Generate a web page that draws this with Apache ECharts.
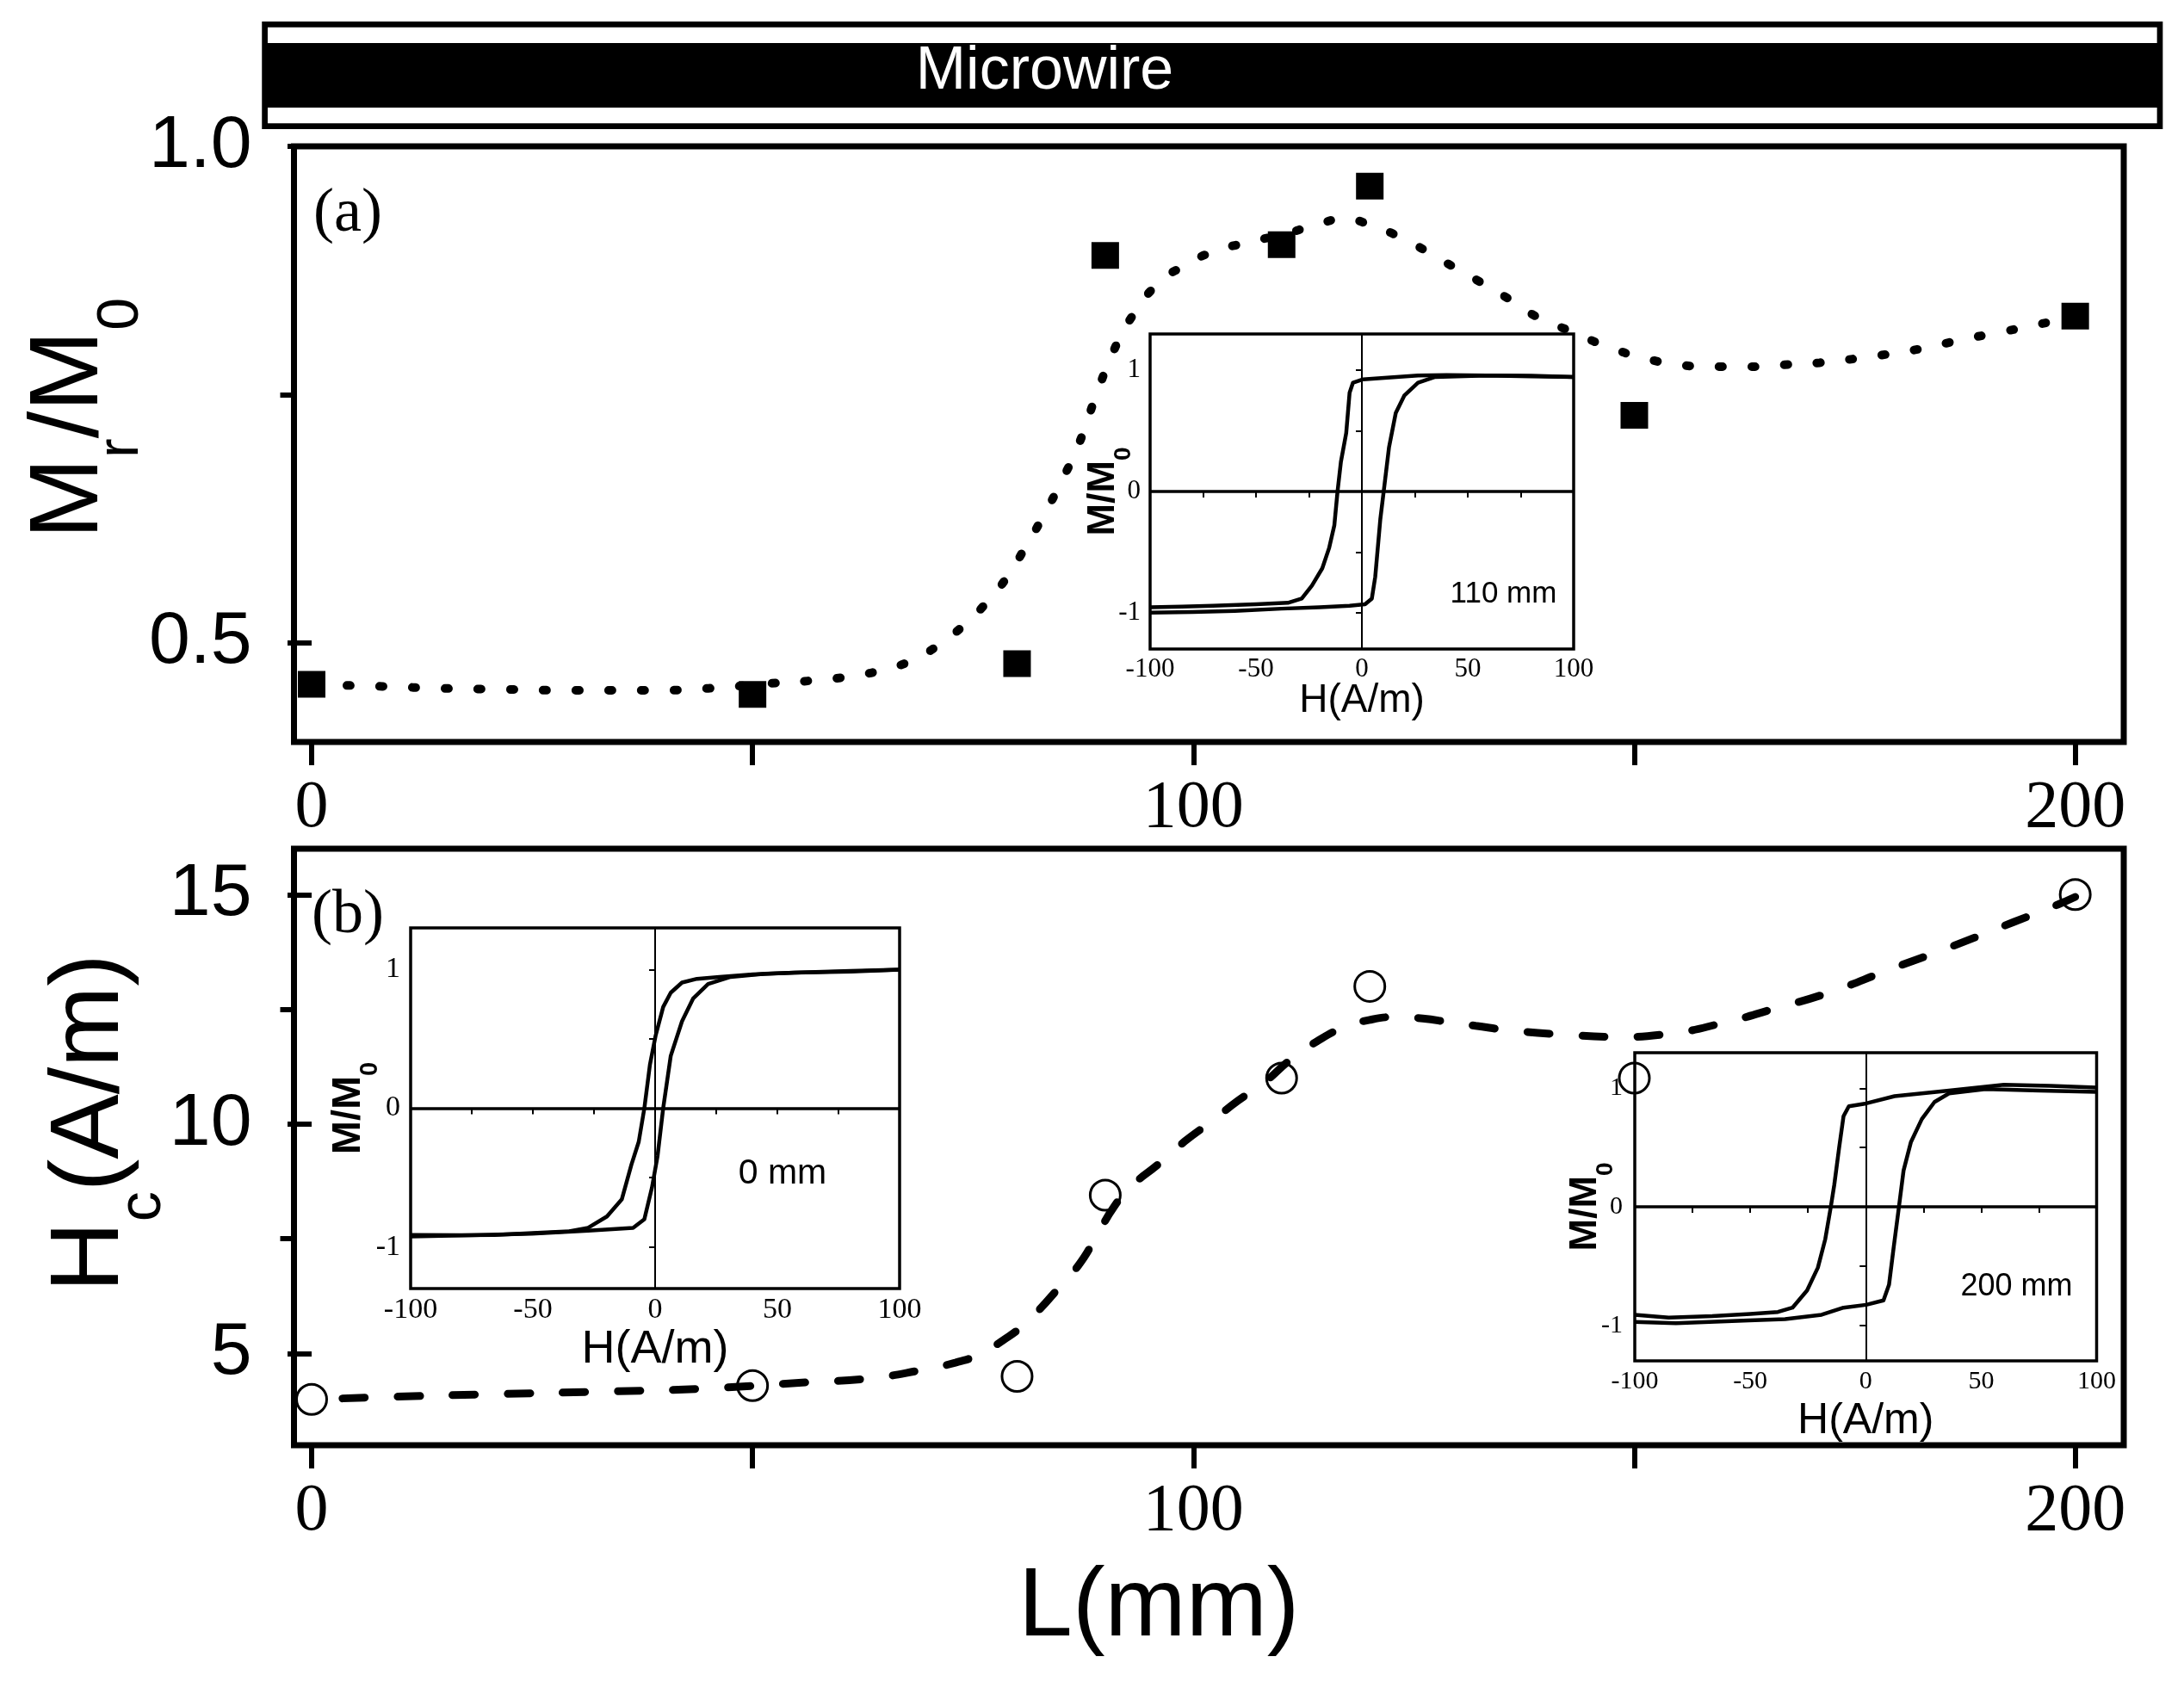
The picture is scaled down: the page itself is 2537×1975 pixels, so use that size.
<!DOCTYPE html>
<html><head><meta charset="utf-8">
<script src="https://cdn.jsdelivr.net/npm/echarts@6/dist/echarts.min.js"></script>
<style>html,body{margin:0;padding:0;background:#fff}#c{width:2537px;height:1975px}</style>
</head><body><div id="c"></div>
<script>
// ---- main data ----
const lengthMM = [0, 50, 80, 90, 110, 120, 150, 200];
const mrRatio = [0.458, 0.448, 0.479, 0.890, 0.901, 0.960, 0.729, 0.829];
const hcValues = [4.0, 4.3, 4.5, 8.45, 11.0, 13.0, 11.0, 15.0];

const fitMrX = [4, 8, 15, 22, 30, 38, 45, 52, 57, 61, 65, 68, 71, 74, 77, 79, 81, 83, 85, 87, 89, 91, 93, 96, 99, 102, 106, 110, 114, 117, 120, 124, 128, 132, 136, 139, 143, 147, 151, 155, 159, 163, 167, 171, 175, 179, 183, 187, 191, 195, 199];
const fitMrY = [0.457, 0.456, 0.454, 0.453, 0.452, 0.452, 0.454, 0.459, 0.462, 0.466, 0.473, 0.482, 0.497, 0.518, 0.545, 0.568, 0.597, 0.628, 0.662, 0.700, 0.750, 0.795, 0.828, 0.862, 0.880, 0.893, 0.903, 0.911, 0.921, 0.927, 0.921, 0.906, 0.886, 0.866, 0.845, 0.828, 0.813, 0.798, 0.787, 0.780, 0.778, 0.778, 0.780, 0.782, 0.786, 0.791, 0.797, 0.805, 0.812, 0.819, 0.827];

const fitHcX = [3.5, 8, 20, 33, 44, 57, 63, 69, 73, 76, 78.5, 80.5, 82.5, 84.5, 87, 89, 91, 93, 96, 99, 102, 105, 108, 111, 114, 117, 120, 123, 126, 129, 132, 136, 142, 148, 154, 160, 166, 172, 179, 186, 193, 198, 200];
const fitHcY = [4.02, 4.05, 4.11, 4.17, 4.23, 4.38, 4.45, 4.63, 4.8, 5.0, 5.3, 5.58, 5.95, 6.38, 6.93, 7.55, 8.2, 8.65, 9.12, 9.62, 10.05, 10.5, 10.9, 11.4, 11.8, 12.1, 12.27, 12.33, 12.3, 12.22, 12.14, 12.04, 11.95, 11.9, 11.97, 12.2, 12.52, 12.86, 13.37, 13.87, 14.4, 14.78, 14.95];

const xTicks = [0, 50, 100, 150, 200];
const xTickLabels = [0, 100, 200];
const mrTicks = [0.5, 1.0];
const mrMinorTicks = [0.75];
const hcTicks = [5, 10, 15];
const hcMinorTicks = [7.5, 12.5];

// ---- inset data (hysteresis loops) ----
const insetHTicks = [-100, -75, -50, -25, 0, 25, 50, 75, 100];
const insetHLabels = [-100, -50, 0, 50, 100];
const insetMTicks = [-1, -0.5, 0, 0.5, 1];
const insetMLabels = [-1, 0, 1];

const loop110DownH = [100, 80, 58.8, 40, 26.5, 12, 0.6, -4.2, -5.8, -7.4, -9.9, -11.5, -13, -15.5, -18.7, -23.6, -28.4, -34.9, -50, -70.4, -85, -100];
const loop110DownM = [0.945, 0.955, 0.957, 0.96, 0.957, 0.94, 0.926, 0.898, 0.815, 0.482, 0.245, 0, -0.278, -0.468, -0.634, -0.777, -0.884, -0.919, -0.93, -0.943, -0.95, -0.955];
const loop110UpH = [-100, -80, -60, -38, -20, -5.8, 1.5, 4.7, 6.3, 8.7, 10.3, 12.8, 16, 20, 26.5, 34.6, 45, 58.8, 80, 100];
const loop110UpM = [-1.0, -0.995, -0.985, -0.967, -0.955, -0.943, -0.931, -0.884, -0.705, -0.23, 0, 0.363, 0.648, 0.791, 0.898, 0.945, 0.95, 0.957, 0.95, 0.945];

const loop0DownH = [100, 80, 57, 40, 26.3, 17.1, 11, 6.4, 3.3, 0.2, -2.1, -4.4, -6.7, -9.7, -13.6, -19.7, -27.4, -35.1, -50, -65.8, -80, -100];
const loop0DownM = [0.999, 0.985, 0.978, 0.965, 0.947, 0.933, 0.906, 0.833, 0.73, 0.523, 0.316, 0, -0.242, -0.407, -0.656, -0.78, -0.862, -0.887, -0.9, -0.914, -0.915, -0.914];
const loop0UpH = [-100, -75, -50.4, -27.4, -9, -4.4, -1.3, 1, 3.3, 6.4, 11, 15.6, 21.7, 30.9, 45, 57, 80, 100];
const loop0UpM = [-0.924, -0.915, -0.904, -0.883, -0.862, -0.8, -0.573, -0.345, 0, 0.378, 0.627, 0.792, 0.896, 0.947, 0.97, 0.978, 0.99, 0.999];

const loop200DownH = [100, 80, 59.8, 36.1, 12.5, 0.2, -7.3, -9.6, -11.5, -13.6, -15.1, -17.5, -20.7, -25.4, -31.7, -38, -50, -66.4, -85.3, -100];
const loop200DownM = [1.005, 1.02, 1.03, 0.98, 0.933, 0.872, 0.848, 0.764, 0.499, 0.186, 0, -0.272, -0.513, -0.706, -0.851, -0.887, -0.905, -0.923, -0.935, -0.911];
const loop200UpH = [-100, -82.2, -50.6, -34.9, -19.1, -9.6, 0.2, 7.7, 10.1, 12.1, 14.4, 16.4, 19.6, 24.3, 29.8, 36.1, 51.9, 75.5, 100];
const loop200UpM = [-0.971, -0.983, -0.959, -0.947, -0.911, -0.851, -0.827, -0.79, -0.658, -0.345, 0, 0.306, 0.547, 0.74, 0.884, 0.957, 0.993, 0.981, 0.969];

// ---- helpers ----
const zip = (xs, ys) => xs.map((x, i) => [x, ys[i]]);
const SANS = '"Liberation Sans", Arial, sans-serif';
const SERIF = '"Liberation Serif", "Times New Roman", serif';

const chart = echarts.init(document.getElementById('c'), null, {renderer: 'canvas'});

const grids = [
  {left: 341.5, top: 170, width: 2125.5, height: 692, show: true, borderColor: '#000', borderWidth: 7, backgroundColor: 'transparent'},
  {left: 341.5, top: 986, width: 2125.5, height: 693, show: true, borderColor: '#000', borderWidth: 7, backgroundColor: 'transparent'},
  {left: 1336, top: 388, width: 492, height: 366, show: true, borderColor: '#000', borderWidth: 3.5, backgroundColor: '#fff', z: 5},
  {left: 477, top: 1078, width: 568, height: 419, show: true, borderColor: '#000', borderWidth: 3.5, backgroundColor: '#fff', z: 5},
  {left: 1899, top: 1223, width: 536.5, height: 358, show: true, borderColor: '#000', borderWidth: 3.5, backgroundColor: '#fff', z: 5}
];

function mainX(gi, extra) {
  return Object.assign({
    gridIndex: gi, type: 'value', min: -2, max: 205.5,
    axisLine: {show: false}, splitLine: {show: false},
    axisTick: {show: true, customValues: xTicks, length: 27, lineStyle: {color: '#000', width: 6}},
    axisLabel: {customValues: xTickLabels, fontFamily: SERIF, fontSize: 78, color: '#000', margin: 39},
    nameMoveOverlap: false
  }, extra || {});
}

function insetX(gi, fs, nameFs, gap, margin) {
  return {
    gridIndex: gi, type: 'value', min: -100, max: 100, z: 6,
    axisLine: {show: false}, splitLine: {show: false},
    axisTick: {show: true, customValues: insetHTicks, length: 7, lineStyle: {color: '#000', width: 2}},
    axisLabel: {customValues: insetHLabels, fontFamily: SERIF, fontSize: fs, color: '#000', margin: margin},
    name: 'H(A/m)', nameLocation: 'middle', nameGap: gap, nameMoveOverlap: false,
    nameTextStyle: {fontFamily: SANS, fontSize: nameFs, color: '#000'}
  };
}
function insetY(gi, fs, nameFs, gap, margin) {
  const sub = Math.round(nameFs * 0.62);
  return {
    gridIndex: gi, type: 'value', min: -1.3, max: 1.3, z: 6,
    axisLine: {show: false}, splitLine: {show: false},
    axisTick: {show: true, customValues: insetMTicks, length: 7, lineStyle: {color: '#000', width: 2}},
    axisLabel: {customValues: insetMLabels, fontFamily: SERIF, fontSize: fs, color: '#000', margin: margin},
    name: '{m|M/M}{s|0}', nameLocation: 'middle', nameGap: gap, nameRotate: 90, nameMoveOverlap: false,
    nameTextStyle: {
      color: '#000',
      rich: {
        m: {fontFamily: SANS, fontSize: nameFs, fontWeight: 'bold', lineHeight: nameFs, verticalAlign: 'top', color: '#000'},
        s: {fontFamily: SANS, fontSize: sub, fontWeight: 'bold', lineHeight: sub, verticalAlign: 'top', padding: [Math.round(nameFs * 0.71), 0, 0, 0], color: '#000'}
      }
    }
  };
}

const xAxes = [
  mainX(0),
  mainX(1, {name: 'L(mm)', nameLocation: 'middle', nameGap: 133,
    nameTextStyle: {fontFamily: SANS, fontSize: 113, color: '#000', padding: [0, 116, 0, 0]}}),
  insetX(2, 31, 46, 37, 8),
  insetX(3, 34, 54, 44, 8),
  insetX(4, 30, 50, 45, 9)
];

const yAxes = [
  {gridIndex: 0, type: 'value', min: 0.4, max: 1.0, position: 'left',
    axisLine: {show: false}, splitLine: {show: false},
    axisTick: {show: true, customValues: mrTicks, length: 28, lineStyle: {color: '#000', width: 6}},
    axisLabel: {customValues: mrTicks, formatter: v => v.toFixed(1), fontFamily: SANS, fontSize: 86, color: '#000', margin: 49},
    name: '{m|M}{s|r}{m|/M}{s|0}', nameLocation: 'middle', nameGap: 203, nameRotate: 90, nameMoveOverlap: false,
    nameTextStyle: {color: '#000', padding: [0, 0, 0, 60],
      rich: {
        m: {fontFamily: SANS, fontSize: 113, lineHeight: 113, verticalAlign: 'top', color: '#000'},
        s: {fontFamily: SANS, fontSize: 68, lineHeight: 68, verticalAlign: 'top', padding: [82, 0, 0, 0], color: '#000'}
      }}
  },
  {gridIndex: 0, type: 'value', min: 0.4, max: 1.0, position: 'left',
    axisLine: {show: false}, splitLine: {show: false}, axisLabel: {show: false},
    axisTick: {show: true, customValues: mrMinorTicks, length: 16, lineStyle: {color: '#000', width: 6}}
  },
  {gridIndex: 1, type: 'value', min: 3, max: 16, position: 'left',
    axisLine: {show: false}, splitLine: {show: false},
    axisTick: {show: true, customValues: hcTicks, length: 28, lineStyle: {color: '#000', width: 6}},
    axisLabel: {customValues: hcTicks, fontFamily: SANS, fontSize: 86, color: '#000', margin: 49},
    name: '{m|H}{s|c}{m|(A/m)}', nameLocation: 'middle', nameGap: 179, nameRotate: 90, nameMoveOverlap: false,
    nameTextStyle: {color: '#000', padding: [0, 0, 0, 56],
      rich: {
        m: {fontFamily: SANS, fontSize: 113, lineHeight: 113, verticalAlign: 'top', color: '#000'},
        s: {fontFamily: SANS, fontSize: 70, lineHeight: 70, verticalAlign: 'top', padding: [82, 0, 0, 0], color: '#000'}
      }}
  },
  {gridIndex: 1, type: 'value', min: 3, max: 16, position: 'left',
    axisLine: {show: false}, splitLine: {show: false}, axisLabel: {show: false},
    axisTick: {show: true, customValues: hcMinorTicks, length: 16, lineStyle: {color: '#000', width: 6}}
  },
  insetY(2, 31, 45, 32, 11),
  insetY(3, 34, 47, 48, 12),
  insetY(4, 30, 45, 35, 14)
];

function crossLines() {
  return {
    silent: true, symbol: ['none', 'none'], label: {show: false}, animation: false,
    lineStyle: {color: '#000', type: 'solid'},
    data: [{xAxis: 0, lineStyle: {color: '#000', width: 2, type: 'solid'}},
           {yAxis: 0, lineStyle: {color: '#000', width: 3.5, type: 'solid'}}]
  };
}
function loopSeries(ai, h, m, withCross) {
  const s = {type: 'line', xAxisIndex: ai, yAxisIndex: ai + 2, data: zip(h, m),
    showSymbol: false, symbol: 'none', z: 7, lineStyle: {color: '#000', width: 4.5, join: 'round'}};
  if (withCross) s.markLine = crossLines();
  return s;
}

const series = [
  {type: 'line', xAxisIndex: 0, yAxisIndex: 0, data: zip(fitMrX, fitMrY), smooth: true, showSymbol: false, symbol: 'none', z: 3,
    lineStyle: {color: '#000', width: 10, type: [4, 34], cap: 'round'}},
  {type: 'scatter', xAxisIndex: 0, yAxisIndex: 0, data: zip(lengthMM, mrRatio), symbol: 'rect', symbolSize: [32, 31], z: 20,
    itemStyle: {color: '#000', opacity: 1}},
  {type: 'scatter', xAxisIndex: 1, yAxisIndex: 2, data: zip(lengthMM, hcValues), symbol: 'circle', symbolSize: 35, z: 20,
    itemStyle: {color: 'rgba(255,255,255,0)', borderColor: '#000', borderWidth: 3, opacity: 1}},
  {type: 'line', xAxisIndex: 1, yAxisIndex: 2, data: zip(fitHcX, fitHcY), smooth: true, showSymbol: false, symbol: 'none', z: 21,
    lineStyle: {color: '#000', width: 9, type: [26, 38], cap: 'round'}},
  loopSeries(2, loop110DownH, loop110DownM, true),
  loopSeries(2, loop110UpH, loop110UpM, false),
  loopSeries(3, loop0DownH, loop0DownM, true),
  loopSeries(3, loop0UpH, loop0UpM, false),
  loopSeries(4, loop200DownH, loop200DownM, true),
  loopSeries(4, loop200UpH, loop200UpM, false)
];

function txt(x, y, text, font, color, z) {
  return {type: 'text', x: x, y: y, z: z || 100,
    style: {text: text, font: font, fill: color || '#000', textAlign: 'center', align: 'center', textVerticalAlign: 'middle', verticalAlign: 'middle'}};
}

const graphic = [
  {type: 'rect', z: 1, shape: {x: 307.6, y: 28.3, width: 2201.4, height: 118.4}, style: {fill: '#fff', stroke: '#000', lineWidth: 6.7}},
  {type: 'rect', z: 2, shape: {x: 307.6, y: 50, width: 2201.4, height: 75}, style: {fill: '#000'}},
  txt(1213.5, 84, 'Microwire', '70px ' + SANS, '#fff', 3),
  txt(404, 249, '(a)', '72px ' + SERIF),
  txt(404, 1064, '(b)', '72px ' + SERIF),
  txt(1746.5, 690.5, '110 mm', '35px ' + SANS),
  txt(909, 1364, '0 mm', '41px ' + SANS),
  txt(2342.5, 1495, '200 mm', '36px ' + SANS)
];

chart.setOption({
  animation: false,
  backgroundColor: '#fff',
  grid: grids,
  xAxis: xAxes,
  yAxis: yAxes,
  series: series,
  graphic: graphic
});
</script>
</body></html>
